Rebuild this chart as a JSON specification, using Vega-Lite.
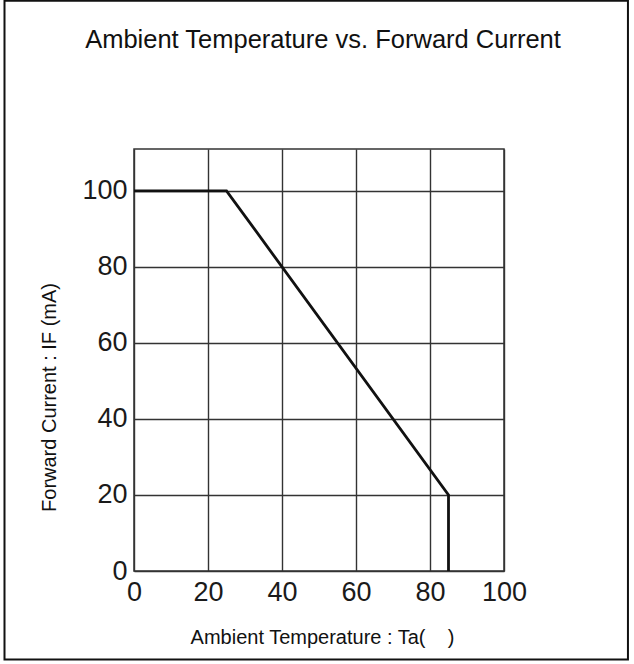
{
  "$schema": "https://vega.github.io/schema/vega-lite/v6.json",
  "width": 370,
  "height": 422,
  "autosize": "none",
  "padding": {"left": 134, "top": 149, "right": 130, "bottom": 93},
  "background": "white",
  "title": {
    "text": "Ambient Temperature vs. Forward Current",
    "font": "Liberation Sans",
    "fontSize": 25.5,
    "fontWeight": "normal",
    "color": "#111111",
    "anchor": "middle",
    "frame": "group",
    "baseline": "alphabetic",
    "offset": 0,
    "dy": 74,
    "dx": 4
  },
  "config": {
    "view": {"stroke": "#333333", "strokeWidth": 1.5},
    "axis": {
      "grid": true,
      "gridColor": "#333333",
      "gridWidth": 1.4,
      "gridOpacity": 1,
      "ticks": false,
      "domain": false,
      "labelFont": "Liberation Sans",
      "labelFontSize": 27,
      "labelColor": "#1a1a1a",
      "labelFlush": false,
      "titleFont": "Liberation Sans",
      "titleFontSize": 20,
      "titleFontWeight": "normal",
      "titleColor": "#111111"
    }
  },
  "layer": [
    {
      "data": {"values": [{"a": 0}]},
      "mark": {"type": "rect", "fill": null, "stroke": "#111111", "strokeWidth": 2, "clip": false},
      "encoding": {
        "x": {"datum": -35, "type": "quantitative", "scale": {"domain": [0, 100]}},
        "x2": {"datum": 133.5},
        "y": {"datum": 150, "type": "quantitative", "scale": {"domain": [0, 111]}},
        "y2": {"datum": -23.3}
      }
    },
    {
      "data": {
        "values": [
          {"idx": 1, "temp": 0, "current": 100},
          {"idx": 2, "temp": 25, "current": 100},
          {"idx": 3, "temp": 85, "current": 20},
          {"idx": 4, "temp": 85, "current": 0}
        ]
      },
      "mark": {"type": "line", "color": "#111111", "strokeWidth": 2.8},
      "encoding": {
        "order": {"field": "idx", "type": "quantitative"},
        "x": {
          "field": "temp",
          "type": "quantitative",
          "scale": {"domain": [0, 100], "nice": false, "zero": false},
          "axis": {
            "values": [0, 20, 40, 60, 80, 100],
            "labelPadding": 8,
            "title": "Ambient Temperature : Ta(\u00a0\u00a0\u00a0\u00a0)",
            "titleX": 188,
            "titleY": 72,
            "titleAlign": "center",
            "titleBaseline": "alphabetic"
          }
        },
        "y": {
          "field": "current",
          "type": "quantitative",
          "scale": {"domain": [0, 111], "nice": false, "zero": false},
          "axis": {
            "values": [0, 20, 40, 60, 80, 100],
            "labelPadding": 7,
            "title": "Forward Current : IF  (mA)",
            "titleX": -79,
            "titleY": 248,
            "titleAngle": -90,
            "titleAlign": "center",
            "titleBaseline": "alphabetic"
          }
        }
      }
    }
  ]
}
